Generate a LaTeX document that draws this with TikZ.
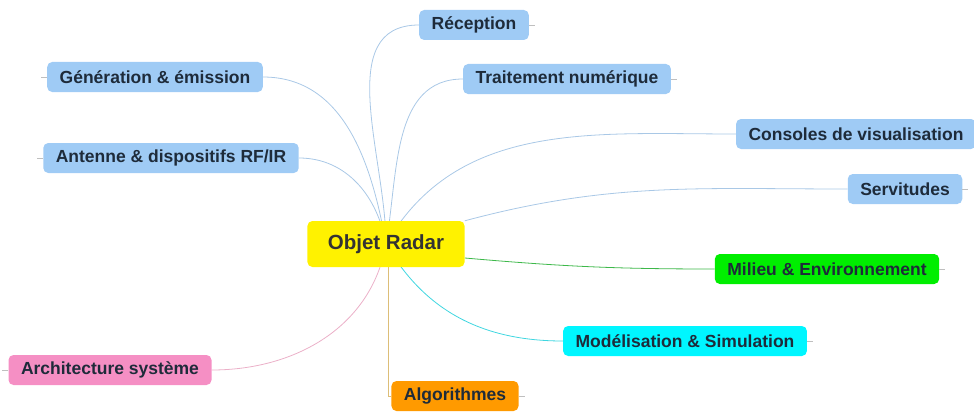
\documentclass[tikz,border=0pt]{standalone}
\usepackage{fontspec}
\setmainfont{Liberation Sans}
\usetikzlibrary{backgrounds}
\definecolor{ink}{HTML}{1E2B3A}
\definecolor{skyfill}{HTML}{9FCBF5}
\definecolor{skyline}{HTML}{A9C8E6}
\definecolor{greenfill}{HTML}{00EE00}
\definecolor{greenline}{HTML}{3DB84A}
\definecolor{cyanfill}{HTML}{00F6FF}
\definecolor{cyanline}{HTML}{3FD6E0}
\definecolor{orangefill}{HTML}{FF9A00}
\definecolor{orangeline}{HTML}{DDBE78}
\definecolor{pinkfill}{HTML}{F58FC4}
\definecolor{pinkline}{HTML}{EBB0C8}
\tikzstyle{topic}=[rectangle,rounded corners=5pt,fill=skyfill,minimum height=30pt,inner xsep=12.5pt,text=ink,font=\fontsize{17.5}{20}\selectfont\bfseries]
\tikzstyle{central}=[topic,fill=yellow,minimum height=46pt,inner xsep=20.5pt,text=black!80,font=\fontsize{20.5}{24}\selectfont\bfseries]
\tikzstyle{link}=[draw=skyline,line width=0.8pt]
\tikzstyle{stub}=[draw=black!25,line width=0.6pt]

\begin{document}
\begin{tikzpicture}[x=1pt,y=-1pt]
\useasboundingbox (0,0) rectangle (974,412);

\node[central] (radar) at (386,244) {Objet Radar};

\node[topic] (reception) at (474,25) {Réception};
\node[topic] (traitement) at (567,79) {Traitement numérique};
\node[topic] (generation) at (155,77) {Génération \& émission};
\node[topic] (antenne) at (171,158) {Antenne \& dispositifs RF/IR};
\node[topic] (consoles) at (856,134) {Consoles de visualisation};
\node[topic] (servitudes) at (905,189) {Servitudes};
\node[topic,fill=greenfill] (milieu) at (827,269) {Milieu \& Environnement};
\node[topic,fill=cyanfill] (modelisation) at (685,341) {Modélisation \& Simulation};
\node[topic,fill=orangefill] (algo) at (455,396) {Algorithmes};
\node[topic,fill=pinkfill] (archi) at (110,370) {Architecture système};

\begin{scope}[on background layer]
\draw[link] (radar.center) to[out=90,in=180] (reception.west);
\draw[link] (radar.center) to[out=80,in=180] (traitement.west);
\draw[link] (radar.center) to[out=100,in=0] (generation.east);
\draw[link] (radar.center) to[out=100,in=0] (antenne.east);
\draw[link] (radar.center) to[out=60,in=180] (consoles.west);
\draw[link] (radar.north east) to[out=15,in=180] (servitudes.west);
\draw[link,draw=greenline] ([yshift=-14pt]radar.east) to[out=-5,in=180] (milieu.west);
\draw[link,draw=cyanline] (radar.center) to[out=-60,in=180] (modelisation.west);
\draw[link,draw=orangeline] ([xshift=2pt]radar.center) |- (algo.west);
\draw[link,draw=pinkline] (radar.center) to[out=-100,in=0] (archi.east);
\end{scope}

\draw[stub] (reception.east) -- ++(6,0);
\draw[stub] (traitement.east) -- ++(6,0);
\draw[stub] (generation.west) -- ++(-6,0);
\draw[stub] (antenne.west) -- ++(-6,0);
\draw[stub] (servitudes.east) -- ++(6,0);
\draw[stub] (milieu.east) -- ++(6,0);
\draw[stub] (modelisation.east) -- ++(6,0);
\draw[stub] (algo.east) -- ++(6,0);
\draw[stub] (archi.west) -- ++(-6,0);
\end{tikzpicture}
\end{document}
